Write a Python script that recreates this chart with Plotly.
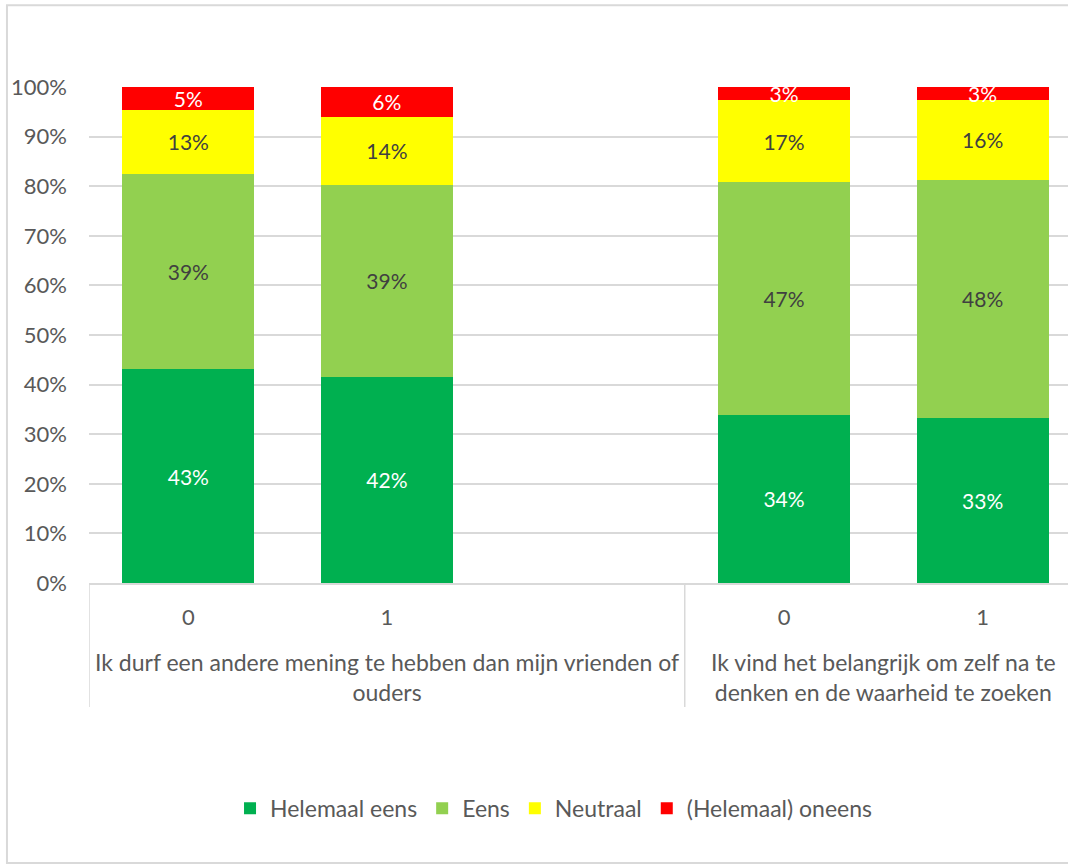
import plotly.graph_objects as go

# Positions of the bars on the category axis (slot 2 is an empty spacer)
positions = [0, 1, 3, 4]
tick_labels = ["0", "1", "0", "1"]
group_labels = [
    "Ik durf een andere mening te hebben dan mijn vrienden of<br>ouders",
    "Ik vind het belangrijk om zelf na te<br>denken en de waarheid te zoeken",
]
group_centers = [1, 3.5]

series_names = ["Helemaal eens", "Eens", "Neutraal", "(Helemaal) oneens"]
helemaal_eens = [43.1, 41.6, 33.9, 33.3]
eens = [39.4, 38.6, 46.9, 48.0]
neutraal = [12.9, 13.8, 16.6, 16.1]
oneens = [4.6, 6.0, 2.6, 2.6]

colors = ["#00B050", "#92D050", "#FFFF00", "#FF0000"]
text_colors = ["#FFFFFF", "#404040", "#404040", "#FFFFFF"]

FONT = "Lato"
GREY = "#595959"

fig = go.Figure()
for name, vals, col, tcol in zip(series_names, [helemaal_eens, eens, neutraal, oneens], colors, text_colors):
    fig.add_trace(go.Bar(
        x=positions, y=vals, name=name,
        marker=dict(color=col, line=dict(width=0)),
        width=0.665,
        texttemplate="%{y:.0f}%",
        textposition="inside",
        insidetextanchor="middle",
        textangle=0,
        textfont=dict(family=FONT, size=21, color=tcol),
        hoverinfo="skip",
    ))

# Group labels under the tick labels
annotations = []
for lbl, cx in zip(group_labels, group_centers):
    annotations.append(dict(
        x=cx, xref="x", y=-0.127, yref="paper", yanchor="top",
        text=lbl, showarrow=False, align="center",
        font=dict(family=FONT, size=23, color=GREY),
    ))

shapes = []
# Group separators below the axis
for sx in [-0.5, 2.5]:
    shapes.append(dict(type="line", xref="x", yref="paper", x0=sx, x1=sx, y0=0, y1=-0.25,
                       line=dict(color="#D9D9D9", width=1.5)))
# Chart area border
shapes.append(dict(type="rect", xref="paper", yref="paper",
                   x0=-0.0838, x1=1.02, y0=-0.5645, y1=1.165,
                   line=dict(color="#D9D9D9", width=2), layer="below"))

fig.update_layout(
    barmode="stack",
    width=1068, height=865,
    margin=dict(l=89, r=0, t=87, b=282),
    plot_bgcolor="white", paper_bgcolor="white",
    font=dict(family=FONT, size=22, color=GREY),
    uniformtext=dict(minsize=21, mode="show"),
    xaxis=dict(
        range=[-0.5, 4.43],
        tickmode="array", tickvals=positions, ticktext=tick_labels,
        showgrid=False, zeroline=False,
        showline=True, linecolor="#D9D9D9", linewidth=1.5,
        ticks="", ticklabelstandoff=14,
        tickfont=dict(family=FONT, size=22, color=GREY),
    ),
    yaxis=dict(
        range=[0, 100], dtick=10, ticksuffix="%",
        showgrid=True, gridcolor="#D9D9D9", gridwidth=1.5,
        zeroline=False, showline=False, ticks="", ticklabelstandoff=21,
        tickfont=dict(family=FONT, size=22, color=GREY),
    ),
    legend=dict(
        orientation="h", x=0.475, xanchor="center", y=-0.454, yanchor="middle",
        font=dict(family=FONT, size=23, color=GREY),
        traceorder="normal", itemwidth=30,
    ),
    annotations=annotations,
    shapes=shapes,
    showlegend=True,
)

fig.write_html("out.html")
